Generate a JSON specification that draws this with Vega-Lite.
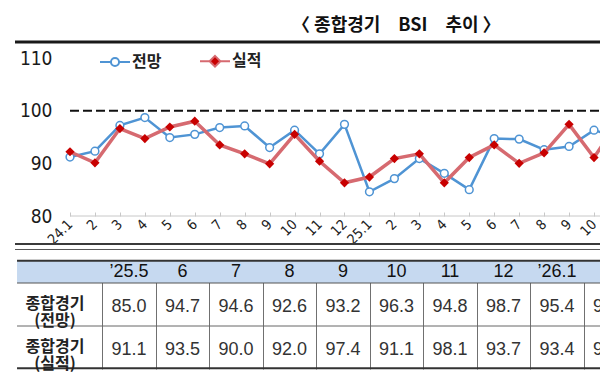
{
  "$schema": "https://vega.github.io/schema/vega-lite/v6.json",
  "padding": {"left": 13, "top": 16, "right": 0, "bottom": 0},
  "background": "white",
  "bounds": "flush",
  "spacing": 44,
  "config": {"view": {"stroke": null}, "axisX": {"labelOverlap": false}},
  "vconcat": [
    {
      "title": {
        "text": "〈 종합경기　BSI　추이 〉",
        "anchor": "start",
        "frame": "group",
        "dx": 277,
        "offset": 6,
        "font": "Noto Sans CJK KR",
        "fontSize": 18,
        "fontWeight": "bold",
        "color": "#111111"
      },
      "width": 587,
      "height": 174,
      "data": {
        "values": [
          {"i": 0, "s": "전망", "v": 91.2}, {"i": 0, "s": "실적", "v": 92.2},
          {"i": 1, "s": "전망", "v": 92.3}, {"i": 1, "s": "실적", "v": 90.1},
          {"i": 2, "s": "전망", "v": 97.2}, {"i": 2, "s": "실적", "v": 96.6},
          {"i": 3, "s": "전망", "v": 98.7}, {"i": 3, "s": "실적", "v": 94.7},
          {"i": 4, "s": "전망", "v": 94.9}, {"i": 4, "s": "실적", "v": 96.9},
          {"i": 5, "s": "전망", "v": 95.5}, {"i": 5, "s": "실적", "v": 98.0},
          {"i": 6, "s": "전망", "v": 96.8}, {"i": 6, "s": "실적", "v": 93.5},
          {"i": 7, "s": "전망", "v": 97.1}, {"i": 7, "s": "실적", "v": 91.8},
          {"i": 8, "s": "전망", "v": 93.0}, {"i": 8, "s": "실적", "v": 89.9},
          {"i": 9, "s": "전망", "v": 96.3}, {"i": 9, "s": "실적", "v": 95.5},
          {"i": 10, "s": "전망", "v": 91.8}, {"i": 10, "s": "실적", "v": 90.4},
          {"i": 11, "s": "전망", "v": 97.4}, {"i": 11, "s": "실적", "v": 86.3},
          {"i": 12, "s": "전망", "v": 84.6}, {"i": 12, "s": "실적", "v": 87.4},
          {"i": 13, "s": "전망", "v": 87.1}, {"i": 13, "s": "실적", "v": 90.9},
          {"i": 14, "s": "전망", "v": 90.9}, {"i": 14, "s": "실적", "v": 91.8},
          {"i": 15, "s": "전망", "v": 88.1}, {"i": 15, "s": "실적", "v": 86.3},
          {"i": 16, "s": "전망", "v": 85.0}, {"i": 16, "s": "실적", "v": 91.1},
          {"i": 17, "s": "전망", "v": 94.7}, {"i": 17, "s": "실적", "v": 93.5},
          {"i": 18, "s": "전망", "v": 94.6}, {"i": 18, "s": "실적", "v": 90.0},
          {"i": 19, "s": "전망", "v": 92.6}, {"i": 19, "s": "실적", "v": 92.0},
          {"i": 20, "s": "전망", "v": 93.2}, {"i": 20, "s": "실적", "v": 97.4},
          {"i": 21, "s": "전망", "v": 96.3}, {"i": 21, "s": "실적", "v": 91.1},
          {"i": 22, "s": "전망", "v": 94.8}, {"i": 22, "s": "실적", "v": 98.1}
        ]
      },
      "layer": [
        {
          "transform": [{"filter": "datum.s == '전망'"}],
          "mark": {"type": "line", "strokeWidth": 2.5, "clip": true},
          "encoding": {
            "x": {
              "field": "i", "type": "quantitative",
              "scale": {"domain": [-2.204, 21.32], "nice": false, "zero": false},
              "axis": {
                "values": [0, 1, 2, 3, 4, 5, 6, 7, 8, 9, 10, 11, 12, 13, 14, 15, 16, 17, 18, 19, 20, 21],
                "tickCount": 24,
                "labelExpr": "datum.value == 0 ? '24.1' : datum.value == 12 ? '25.1' : '' + (datum.value % 12 + 1)",
                "domain": false, "grid": false,
                "ticks": true, "tickSize": -4, "tickColor": "#c8c8c8",
                "labelAngle": -45, "labelAlign": "right", "labelBaseline": "middle",
                "labelPadding": 10,
                "labelFont": "Liberation Sans Narrow, DejaVu Sans Condensed, sans-serif",
                "labelFontSize": 14, "labelColor": "#222222",
                "labelOverlap": false, "labelFlush": false, "labelBound": false,
                "title": null
              }
            },
            "y": {
              "field": "v", "type": "quantitative",
              "scale": {"domain": [80, 113.04], "nice": false, "zero": false},
              "axis": {
                "values": [80, 90, 100, 110],
                "domain": false, "ticks": false, "grid": false,
                "labelPadding": -37, "labelAlign": "right", "labelBaseline": "middle",
                "labelFont": "Liberation Sans Narrow, DejaVu Sans Condensed, sans-serif",
                "labelFontSize": 19, "labelColor": "#1a1a1a",
                "title": null
              }
            },
            "stroke": {
              "field": "s", "type": "nominal",
              "scale": {"domain": ["전망", "실적"], "range": ["#4f94d4", "#d66a70"]},
              "legend": {
                "orient": "none", "legendX": 84, "legendY": 3,
                "direction": "horizontal", "title": null,
                "padding": 0, "columnPadding": 34,
                "symbolSize": 900, "symbolStrokeWidth": 2.5,
                "labelFont": "Noto Sans CJK KR", "labelFontSize": 16, "labelFontWeight": "bold",
                "labelColor": "#222222", "labelOffset": 1,
                "encode": {
                  "symbols": {
                    "update": {
                      "shape": {"signal": "datum.value === '전망' ? 'M-1,0L-0.27,0M0.27,0L1,0M0.27,0A0.27,0.27,0,1,1,-0.27,0A0.27,0.27,0,1,1,0.27,0Z' : 'M-1,0L-0.32,0M0.32,0L1,0M0,-0.36L0.36,0L0,0.36L-0.36,0Z'"},
                      "fill": {"signal": "datum.value === '전망' ? '#ffffff' : '#c80000'"},
                      "fillOpacity": {"value": 1},
                      "stroke": {"signal": "datum.value === '전망' ? '#4f94d4' : '#d66a70'"},
                      "strokeWidth": {"value": 2}
                    }
                  }
                }
              }
            }
          }
        },
        {
          "transform": [{"filter": "datum.s == '전망'"}],
          "mark": {"type": "point", "shape": "circle", "filled": true, "fill": "#ffffff", "stroke": "#4f94d4", "strokeWidth": 1.5, "size": 60, "opacity": 1, "clip": true},
          "encoding": {"x": {"field": "i", "type": "quantitative"}, "y": {"field": "v", "type": "quantitative"}}
        },
        {
          "transform": [{"filter": "datum.s == '실적'"}],
          "mark": {"type": "line", "strokeWidth": 3.5, "clip": true},
          "encoding": {
            "x": {"field": "i", "type": "quantitative"},
            "y": {"field": "v", "type": "quantitative"},
            "stroke": {"field": "s", "type": "nominal"}
          }
        },
        {
          "transform": [{"filter": "datum.s == '실적'"}],
          "mark": {"type": "point", "shape": "diamond", "filled": true, "fill": "#c80000", "strokeWidth": 0, "size": 85, "opacity": 1, "clip": true},
          "encoding": {"x": {"field": "i", "type": "quantitative"}, "y": {"field": "v", "type": "quantitative"}}
        },
        {
          "data": {"values": [{"part": "title rule"}]},
          "mark": {"type": "rule", "color": "#1a1a1a", "strokeWidth": 3},
          "encoding": {"y": {"datum": 113.04}}
        },
        {
          "data": {"values": [{"part": "sep1"}]},
          "mark": {"type": "rule", "color": "#3a3a3a", "strokeWidth": 2},
          "encoding": {"y": {"datum": 74.68}}
        },
        {
          "data": {"values": [{"part": "sep2"}]},
          "mark": {"type": "rule", "color": "#555555", "strokeWidth": 1},
          "encoding": {"y": {"datum": 73.64}}
        },
        {
          "data": {"values": [{"part": "base"}]},
          "mark": {"type": "rule", "color": "#c8c8c8", "strokeWidth": 1},
          "encoding": {"x": {"datum": 0}, "x2": {"datum": 21.32}, "y": {"datum": 80}}
        },
        {
          "data": {"values": [{"part": "ref100"}]},
          "mark": {"type": "rule", "color": "#111111", "strokeWidth": 2, "strokeDash": [9, 4]},
          "encoding": {"x": {"datum": 0}, "x2": {"datum": 21.32}, "y": {"datum": 100}}
        }
      ]
    },
    {
      "width": 587,
      "height": 109,
      "data": {
        "values": [
          {"k": 0, "h": "’25.5", "a": 85.0, "b": 91.1},
          {"k": 1, "h": "6", "a": 94.7, "b": 93.5},
          {"k": 2, "h": "7", "a": 94.6, "b": 90.0},
          {"k": 3, "h": "8", "a": 92.6, "b": 92.0},
          {"k": 4, "h": "9", "a": 93.2, "b": 97.4},
          {"k": 5, "h": "10", "a": 96.3, "b": 91.1},
          {"k": 6, "h": "11", "a": 94.8, "b": 98.1},
          {"k": 7, "h": "12", "a": 98.7, "b": 93.7},
          {"k": 8, "h": "’26.1", "a": 95.4, "b": 93.4},
          {"k": 9, "h": "2", "a": 95.0, "b": 94.0}
        ]
      },
      "layer": [
        {
          "data": {"values": [{"part": "header"}]},
          "mark": {"type": "rect", "color": "#c6d9f0"},
          "encoding": {
            "x": {"datum": -2.093, "type": "quantitative", "scale": {"domain": [-2.131, 8.841], "nice": false, "zero": false}},
            "x2": {"datum": 8.841},
            "y": {"datum": -0.035, "type": "quantitative", "scale": {"domain": [-0.035, 2.5], "nice": false, "zero": false, "reverse": true}, "axis": null},
            "y2": {"datum": 0.5}
          }
        },
        {
          "data": {"values": [{"part": "hline"}]},
          "mark": {"type": "rule", "color": "#555555", "strokeWidth": 1},
          "encoding": {"x": {"datum": -2.093}, "x2": {"datum": 8.841}, "y": {"datum": 0.5, "axis": null}}
        },
        {
          "data": {"values": [{"part": "hline"}]},
          "mark": {"type": "rule", "color": "#666666", "strokeWidth": 1},
          "encoding": {"x": {"datum": -2.093}, "x2": {"datum": 8.841}, "y": {"datum": 1.5, "axis": null}}
        },
        {
          "data": {"values": [{"part": "top"}]},
          "mark": {"type": "rule", "color": "#333333", "strokeWidth": 2},
          "encoding": {"x": {"datum": -2.093}, "x2": {"datum": 8.841}, "y": {"datum": -0.02, "axis": null}}
        },
        {
          "data": {"values": [{"part": "bottom"}]},
          "mark": {"type": "rule", "color": "#333333", "strokeWidth": 2},
          "encoding": {"x": {"datum": -2.093}, "x2": {"datum": 8.841}, "y": {"datum": 2.48, "axis": null}}
        },
        {
          "mark": {"type": "text", "font": "Liberation Sans", "fontSize": 18, "color": "#111111", "baseline": "middle", "align": "center", "clip": true},
          "encoding": {
            "x": {
              "field": "k", "type": "quantitative",
              "axis": {
                "values": [-0.5, 0.5, 1.5, 2.5, 3.5, 4.5, 5.5, 6.5, 7.5, 8.5],
                "grid": true, "gridColor": "#707070", "gridWidth": 1,
                "labels": false, "ticks": false, "domain": false, "title": null
              }
            },
            "y": {"datum": 0.233, "axis": null},
            "text": {"field": "h"}
          }
        },
        {
          "mark": {"type": "text", "font": "Liberation Sans", "fontSize": 18, "color": "#333333", "baseline": "middle", "align": "center", "clip": true},
          "encoding": {
            "x": {"field": "k", "type": "quantitative"},
            "y": {"datum": 1.05, "axis": null},
            "text": {"field": "a", "format": ".1f"}
          }
        },
        {
          "mark": {"type": "text", "font": "Liberation Sans", "fontSize": 18, "color": "#333333", "baseline": "middle", "align": "center", "clip": true},
          "encoding": {
            "x": {"field": "k", "type": "quantitative"},
            "y": {"datum": 2.05, "axis": null},
            "text": {"field": "b", "format": ".1f"}
          }
        },
        {
          "data": {"values": [{"r": 1, "lab": ["종합경기", "(전망)"]}, {"r": 2, "lab": ["종합경기", "(실적)"]}]},
          "mark": {"type": "text", "font": "Noto Sans CJK KR", "fontSize": 16, "fontWeight": "bold", "color": "#222222", "baseline": "middle", "align": "center", "lineHeight": 17, "dy": -1},
          "encoding": {
            "x": {"datum": -1.383},
            "y": {"field": "r", "type": "quantitative", "axis": null},
            "text": {"field": "lab"}
          }
        }
      ]
    }
  ]
}
